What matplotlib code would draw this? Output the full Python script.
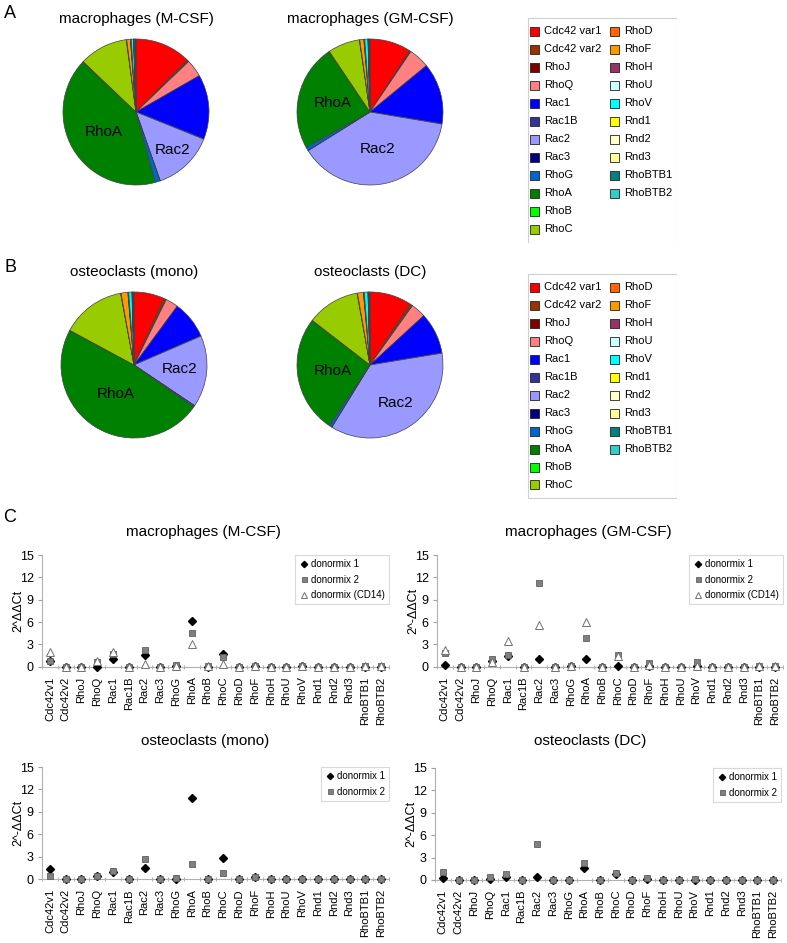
import matplotlib
matplotlib.use("Agg")
import matplotlib.pyplot as plt
from matplotlib.patches import Rectangle
import numpy as np

plt.rcParams['font.family'] = ['Liberation Sans', 'DejaVu Sans']

W, H = 787, 943

genes = ["Cdc42 var1", "Cdc42 var2", "RhoJ", "RhoQ", "Rac1", "Rac1B", "Rac2", "Rac3",
         "RhoG", "RhoA", "RhoB", "RhoC", "RhoD", "RhoF", "RhoH", "RhoU", "RhoV",
         "Rnd1", "Rnd2", "Rnd3", "RhoBTB1", "RhoBTB2"]
gene_ticks = ["Cdc42v1", "Cdc42v2", "RhoJ", "RhoQ", "Rac1", "Rac1B", "Rac2", "Rac3",
              "RhoG", "RhoA", "RhoB", "RhoC", "RhoD", "RhoF", "RhoH", "RhoU", "RhoV",
              "Rnd1", "Rnd2", "Rnd3", "RhoBTB1", "RhoBTB2"]
gene_colors = ["#FF0000", "#993300", "#800000", "#FF8080", "#0000FF", "#333399", "#9999FF",
               "#000080", "#0066CC", "#008000", "#00FF00", "#99CC00", "#FF6600", "#FF9900",
               "#993366", "#CCFFFF", "#00FFFF", "#FFFF00", "#FFFFCC", "#FFFF99", "#008080",
               "#33CCCC"]

# relative expression (%) for the pie charts
pie_mcsf = [12.5, 0.3, 0.1, 3.9, 14.4, 0.05, 13.6, 0.05, 1.1, 41.5, 0.1, 10.8, 0.1, 0.8,
            0.1, 0.1, 0.5, 0.05, 0.05, 0.05, 0.3, 0.1]
pie_gmcsf = [9.2, 0.2, 0.1, 4.6, 13.6, 0.05, 38.6, 0.05, 0.8, 23.6, 0.1, 7.1, 0.1, 0.9,
             0.1, 0.1, 0.7, 0.05, 0.05, 0.05, 0.2, 0.1]
pie_mono = [6.7, 0.5, 0.1, 2.8, 8.4, 0.05, 15.9, 0.05, 0.3, 48.1, 0.1, 14.2, 0.1, 1.5,
            0.1, 0.1, 0.7, 0.05, 0.05, 0.05, 0.2, 0.1]
pie_dc = [9.3, 0.5, 0.1, 3.3, 9.2, 0.05, 36.4, 0.05, 0.6, 26.0, 0.1, 11.7, 0.1, 1.3,
          0.1, 0.1, 0.8, 0.05, 0.05, 0.05, 0.2, 0.1]

# 2^-ddCt values
mcsf_d1 = [0.7, 0, 0, 0.0, 1.1, 0, 1.6, 0, 0.1, 6.2, 0, 1.65, 0, 0.1, 0, 0, 0.05, 0, 0, 0, 0, 0]
mcsf_d2 = [0.8, 0, 0, 0.6, 1.65, 0, 2.2, 0, 0.2, 4.5, 0.05, 1.25, 0, 0.15, 0, 0, 0.1, 0, 0, 0, 0.05, 0.05]
mcsf_cd14 = [2.0, 0, 0, 0.75, 1.95, 0, 0.35, 0, 0.15, 3.1, 0.05, 0.35, 0, 0.1, 0, 0, 0.05, 0, 0, 0, 0.05, 0.05]
gmcsf_d1 = [0.2, 0, 0, 0.8, 1.5, 0, 1.0, 0, 0.1, 1.0, 0, 0.15, 0, 0.1, 0, 0, 0.05, 0, 0, 0, 0, 0]
gmcsf_d2 = [1.9, 0, 0, 1.0, 1.55, 0, 11.2, 0, 0.15, 3.85, 0, 1.55, 0, 0.45, 0, 0, 0.6, 0, 0, 0, 0.05, 0.05]
gmcsf_cd14 = [2.2, 0, 0, 0.65, 3.45, 0, 5.6, 0, 0.15, 6.05, 0, 1.4, 0, 0.2, 0, 0, 0.1, 0, 0, 0, 0.05, 0.05]
mono_d1 = [1.33, 0, 0, 0.4, 1.0, 0, 1.5, 0, 0.1, 10.83, 0, 2.8, 0, 0.25, 0, 0, 0, 0, 0, 0, 0, 0.05]
mono_d2 = [0.44, 0, 0, 0.44, 1.06, 0, 2.75, 0, 0.13, 2.0, 0, 0.84, 0, 0.27, 0, 0, 0, 0, 0, 0, 0, 0.05]
dc_d1 = [0.3, 0, 0, 0.15, 0.4, 0, 0.45, 0, 0, 1.57, 0, 0.8, 0, 0.1, 0, 0, 0.05, 0, 0, 0, 0, 0]
dc_d2 = [1.12, 0, 0.05, 0.4, 0.85, 0, 4.88, 0, 0, 2.28, 0, 0.9, 0, 0.22, 0, 0, 0.18, 0, 0, 0, 0, 0]

fig = plt.figure(figsize=(W / 100, H / 100), dpi=100)


def px_axes(x0, y0, x1, y1):
    return fig.add_axes([x0 / W, 1 - y1 / H, (x1 - x0) / W, (y1 - y0) / H])


def draw_pie(cx, cy, vals, title, labels_at):
    r = 73
    m = 1.05
    ax = px_axes(cx - r * m, cy - r * m, cx + r * m, cy + r * m)
    wedges, _ = ax.pie(vals, colors=gene_colors, startangle=90, counterclock=False,
                       wedgeprops=dict(edgecolor='#404040', linewidth=0.5))
    ax.set_xlim(-m, m)
    ax.set_ylim(-m, m)
    for name, dist in labels_at.items():
        w = wedges[genes.index(name)]
        ang = np.deg2rad((w.theta1 + w.theta2) / 2)
        ax.text(dist * np.cos(ang), dist * np.sin(ang), name, ha='center', va='center',
                fontsize=11)
    fig.text(cx / W, 1 - (cy - 93) / H, title, ha='center', va='center', fontsize=11)


def draw_legend(x0, y0):
    lw, lh = 150, 226
    ax = px_axes(x0, y0, x0 + lw, y0 + lh)
    ax.set_xlim(0, lw)
    ax.set_ylim(lh, 0)
    ax.axis('off')
    ax.add_patch(Rectangle((0.5, 0.5), lw - 1, lh - 1, fill=False, ec='#d0d0d0', lw=0.8))
    for i, (name, col) in enumerate(zip(genes, gene_colors)):
        c, row = (0, i) if i < 12 else (1, i - 12)
        hx = 3 + 80 * c
        hy = 14 + 18 * row
        ax.add_patch(Rectangle((hx, hy - 4.5), 9, 9, fc=col, ec='#202020', lw=0.6))
        ax.text(hx + 14, hy, name, va='center', ha='left', fontsize=8)


d1_style = dict(marker='D', ms=4, color='black', mec='black', label='donormix 1')
d2_style = dict(marker='s', ms=4.5, color='#808080', mec='#606060', mew=0.6, label='donormix 2')
cd14_style = dict(marker='^', ms=6, color='white', mec='#707070', mew=0.7,
                  label='donormix (CD14)')


def draw_scatter(x0, x1, y_top, y_bot, title, title_x, title_y, series, ylabel):
    ax = px_axes(x0, y_top, x1, y_bot)
    x = np.arange(len(gene_ticks))
    for vals, style in series:
        ax.plot(x, vals, ls='none', clip_on=False, zorder=3, **style)
    ax.set_xlim(-0.5, len(gene_ticks) - 0.5)
    ax.set_ylim(0, 15)
    ax.set_yticks([0, 3, 6, 9, 12, 15])
    ax.set_xticks(x)
    ax.set_xticklabels(gene_ticks, rotation=90, fontsize=8)
    ax.set_xticks(np.arange(-0.5, len(gene_ticks)), minor=True)
    ax.tick_params(axis='x', which='major', length=0, pad=7)
    ax.tick_params(axis='x', which='minor', length=3, color='#a0a0a0', direction='inout')
    ax.tick_params(axis='y', length=3, color='#a0a0a0', labelsize=9, pad=3)
    for s in ['top', 'right']:
        ax.spines[s].set_visible(False)
    for s in ['left', 'bottom']:
        ax.spines[s].set_color('#b0b0b0')
        ax.spines[s].set_linewidth(0.8)
    ax.set_ylabel(ylabel, fontsize=9)
    ax.yaxis.set_label_coords(-0.05, 0.5)
    leg = ax.legend(loc='upper right', bbox_to_anchor=(1.0, 1.0), borderaxespad=0,
                    fontsize=7, frameon=True, fancybox=False, handletextpad=0.2,
                    handlelength=1.0, markerscale=0.8, labelspacing=0.55, borderpad=0.45)
    leg.get_frame().set_edgecolor('#d0d0d0')
    leg.get_frame().set_linewidth(0.8)
    fig.text(title_x / W, 1 - title_y / H, title, ha='center', va='center', fontsize=11)


# panel A
fig.text(10 / W, 1 - 13 / H, "A", ha='center', va='center', fontsize=13)
draw_pie(136, 112, pie_mcsf, "macrophages (M-CSF)", {"RhoA": 0.52, "Rac2": 0.72})
draw_pie(370, 112, pie_gmcsf, "macrophages (GM-CSF)", {"RhoA": 0.52, "Rac2": 0.52})
draw_legend(527, 17)

# panel B
fig.text(10 / W, 1 - 267 / H, "B", ha='center', va='center', fontsize=13)
draw_pie(134, 365, pie_mono, "osteoclasts (mono)", {"RhoA": 0.47, "Rac2": 0.63})
draw_pie(370, 365, pie_dc, "osteoclasts (DC)", {"RhoA": 0.52, "Rac2": 0.62})
draw_legend(527, 273)

# panel C
fig.text(10 / W, 1 - 517 / H, "C", ha='center', va='center', fontsize=13)
draw_scatter(42, 389, 555, 666.7, "macrophages (M-CSF)", 203, 532,
             [(mcsf_d1, d1_style), (mcsf_d2, d2_style), (mcsf_cd14, cd14_style)], "2^ΔΔCt")
draw_scatter(437, 783, 555, 666.7, "macrophages (GM-CSF)", 588, 532,
             [(gmcsf_d1, d1_style), (gmcsf_d2, d2_style), (gmcsf_cd14, cd14_style)], "2^-ΔΔCt")
draw_scatter(42, 389, 767, 879.3, "osteoclasts (mono)", 205, 741,
             [(mono_d1, d1_style), (mono_d2, d2_style)], "2^-ΔΔCt")
draw_scatter(435, 781, 768, 880, "osteoclasts (DC)", 590, 741,
             [(dc_d1, d1_style), (dc_d2, d2_style)], "2^-ΔΔCt")

fig.savefig("out.png", dpi=100)
